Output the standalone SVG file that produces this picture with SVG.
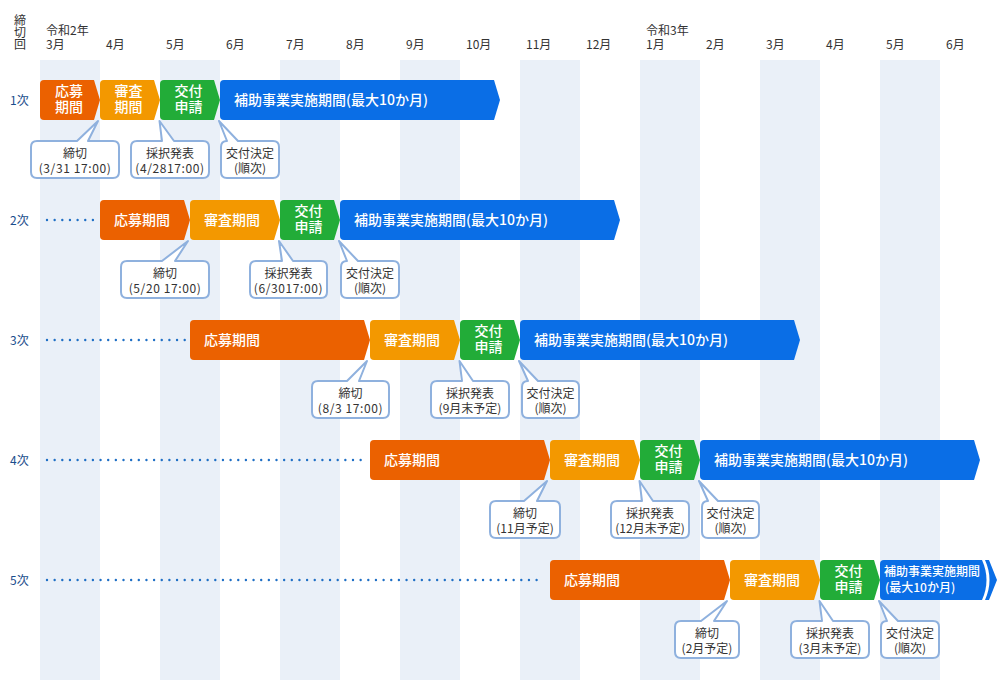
<svg xmlns="http://www.w3.org/2000/svg" width="1000" height="680" viewBox="0 0 1000 680">
<style>
text{font-family:"Noto Sans CJK JP","Noto Sans",sans-serif}
.st{fill:#eaf0f8}
.hd{font-size:12px;fill:#333}
.rl{font-size:12px;fill:#1a4d8c}
.ct{font-size:14px;fill:#fff;font-weight:500}
.cc{font-size:14px;fill:#fff;font-weight:500;text-anchor:middle}
.bs{font-size:12px;fill:#fff;font-weight:500}
.o{fill:#eb6100}
.a{fill:#f39800}
.g{fill:#22ac38}
.b{fill:#0a6ee6}
.dots{stroke:#1f6fc5;stroke-width:2.4;stroke-linecap:round;stroke-dasharray:0 7.65;fill:none}
.co{fill:#fff;stroke:#8fb1de;stroke-width:2;stroke-linejoin:round}
.cl{font-size:12px;fill:#333;text-anchor:middle}
.tm{letter-spacing:0.6px}
</style>
<g id="stripes">
<rect class="st" x="40" y="60" width="60" height="620"/>
<rect class="st" x="160" y="60" width="60" height="620"/>
<rect class="st" x="280" y="60" width="60" height="620"/>
<rect class="st" x="400" y="60" width="60" height="620"/>
<rect class="st" x="520" y="60" width="60" height="620"/>
<rect class="st" x="640" y="60" width="60" height="620"/>
<rect class="st" x="760" y="60" width="60" height="620"/>
<rect class="st" x="880" y="60" width="60" height="620"/>
</g>
<g id="header" class="hd">
<text x="20" y="14" writing-mode="vertical-rl">締切回</text>
<text x="46" y="35">令和2年</text>
<text x="646" y="35">令和3年</text>
<text x="46" y="49">3月</text>
<text x="106" y="49">4月</text>
<text x="166" y="49">5月</text>
<text x="226" y="49">6月</text>
<text x="286" y="49">7月</text>
<text x="346" y="49">8月</text>
<text x="406" y="49">9月</text>
<text x="466" y="49">10月</text>
<text x="526" y="49">11月</text>
<text x="586" y="49">12月</text>
<text x="646" y="49">1月</text>
<text x="706" y="49">2月</text>
<text x="766" y="49">3月</text>
<text x="826" y="49">4月</text>
<text x="886" y="49">5月</text>
<text x="946" y="49">6月</text>
</g>
<g id="rowlabels" class="rl">
<text x="10" y="105">1次</text>
<text x="10" y="225">2次</text>
<text x="10" y="345">3次</text>
<text x="10" y="465">4次</text>
<text x="10" y="585">5次</text>
</g>
<g id="connectors">
<line class="dots" x1="47" y1="220" x2="93" y2="220"/>
<line class="dots" x1="47" y1="340" x2="184.8" y2="340"/>
<line class="dots" x1="47" y1="460" x2="360.8" y2="460"/>
<line class="dots" x1="47" y1="580" x2="536.7" y2="580"/>
</g>
<g id="row1">
<g id="r1-oubo"><path class="o" d="M44,80 H94 L100,100 L94,120 H44 Q40,120 40,116 V84 Q40,80 44,80 Z"/><text class="cc"><tspan x="69" y="96">応募</tspan><tspan x="69" y="112">期間</tspan></text></g>
<g id="r1-shinsa"><path class="a" d="M104,80 H154 L160,100 L154,120 H104 Q100,120 100,116 V84 Q100,80 104,80 Z"/><text class="cc"><tspan x="128.5" y="96">審査</tspan><tspan x="128.5" y="112">期間</tspan></text></g>
<g id="r1-koufu"><path class="g" d="M164,80 H214 L220,100 L214,120 H164 Q160,120 160,116 V84 Q160,80 164,80 Z"/><text class="cc"><tspan x="188.5" y="96">交付</tspan><tspan x="188.5" y="112">申請</tspan></text></g>
<g id="r1-hojo"><path class="b" d="M224,80 H494 L500,100 L494,120 H224 Q220,120 220,116 V84 Q220,80 224,80 Z"/><text class="ct" x="234" y="105">補助事業実施期間(最大10か月)</text></g>
</g>
<g id="row2">
<g id="r2-oubo"><path class="o" d="M104,200 H184 L190,220 L184,240 H104 Q100,240 100,236 V204 Q100,200 104,200 Z"/><text class="ct" x="114" y="225">応募期間</text></g>
<g id="r2-shinsa"><path class="a" d="M194,200 H274 L280,220 L274,240 H194 Q190,240 190,236 V204 Q190,200 194,200 Z"/><text class="ct" x="204" y="225">審査期間</text></g>
<g id="r2-koufu"><path class="g" d="M284,200 H334 L340,220 L334,240 H284 Q280,240 280,236 V204 Q280,200 284,200 Z"/><text class="cc"><tspan x="308.5" y="216">交付</tspan><tspan x="308.5" y="232">申請</tspan></text></g>
<g id="r2-hojo"><path class="b" d="M344,200 H614 L620,220 L614,240 H344 Q340,240 340,236 V204 Q340,200 344,200 Z"/><text class="ct" x="354" y="225">補助事業実施期間(最大10か月)</text></g>
</g>
<g id="row3">
<g id="r3-oubo"><path class="o" d="M194,320 H364 L370,340 L364,360 H194 Q190,360 190,356 V324 Q190,320 194,320 Z"/><text class="ct" x="204" y="345">応募期間</text></g>
<g id="r3-shinsa"><path class="a" d="M374,320 H454 L460,340 L454,360 H374 Q370,360 370,356 V324 Q370,320 374,320 Z"/><text class="ct" x="384" y="345">審査期間</text></g>
<g id="r3-koufu"><path class="g" d="M464,320 H514 L520,340 L514,360 H464 Q460,360 460,356 V324 Q460,320 464,320 Z"/><text class="cc"><tspan x="488.5" y="336">交付</tspan><tspan x="488.5" y="352">申請</tspan></text></g>
<g id="r3-hojo"><path class="b" d="M524,320 H794 L800,340 L794,360 H524 Q520,360 520,356 V324 Q520,320 524,320 Z"/><text class="ct" x="534" y="345">補助事業実施期間(最大10か月)</text></g>
</g>
<g id="row4">
<g id="r4-oubo"><path class="o" d="M374,440 H544 L550,460 L544,480 H374 Q370,480 370,476 V444 Q370,440 374,440 Z"/><text class="ct" x="384" y="465">応募期間</text></g>
<g id="r4-shinsa"><path class="a" d="M554,440 H634 L640,460 L634,480 H554 Q550,480 550,476 V444 Q550,440 554,440 Z"/><text class="ct" x="564" y="465">審査期間</text></g>
<g id="r4-koufu"><path class="g" d="M644,440 H694 L700,460 L694,480 H644 Q640,480 640,476 V444 Q640,440 644,440 Z"/><text class="cc"><tspan x="668.5" y="456">交付</tspan><tspan x="668.5" y="472">申請</tspan></text></g>
<g id="r4-hojo"><path class="b" d="M704,440 H974 L980,460 L974,480 H704 Q700,480 700,476 V444 Q700,440 704,440 Z"/><text class="ct" x="714" y="465">補助事業実施期間(最大10か月)</text></g>
</g>
<g id="row5">
<g id="r5-oubo"><path class="o" d="M554,560 H724 L730,580 L724,600 H554 Q550,600 550,596 V564 Q550,560 554,560 Z"/><text class="ct" x="564" y="585">応募期間</text></g>
<g id="r5-shinsa"><path class="a" d="M734,560 H814 L820,580 L814,600 H734 Q730,600 730,596 V564 Q730,560 734,560 Z"/><text class="ct" x="744" y="585">審査期間</text></g>
<g id="r5-koufu"><path class="g" d="M824,560 H874 L880,580 L874,600 H824 Q820,600 820,596 V564 Q820,560 824,560 Z"/><text class="cc"><tspan x="848.5" y="576">交付</tspan><tspan x="848.5" y="592">申請</tspan></text></g>
<g id="r5-hojo"><path class="b" d="M884,560 H982 Q991,580 982,600 H884 Q880,600 880,596 V564 Q880,560 884,560 Z"/><path class="b" d="M985,560 H989 L997,580 L989,600 H985 Q994,580 985,560 Z"/><text class="bs"><tspan x="884" y="576">補助事業実施期間</tspan><tspan x="885" y="592">(最大10か月)</tspan></text></g>
</g>
<g id="callouts">
<g id="c1a"><path class="co" d="M37,141 H77 L98,121 L88,141 H113 Q119,141 119,147 V172 Q119,178 113,178 H37 Q31,178 31,172 V147 Q31,141 37,141 Z"/><text class="cl"><tspan x="75" y="158">締切</tspan><tspan class="tm" x="75" y="172.5">(3/31 17:00)</tspan></text></g>
<g id="c1b"><path class="co" d="M137,141 H162 L159.5,121 L174,141 H203 Q209,141 209,147 V172 Q209,178 203,178 H137 Q131,178 131,172 V147 Q131,141 137,141 Z"/><text class="cl"><tspan x="170" y="158">採択発表</tspan><tspan class="tm" x="170" y="172.5">(4/2817:00)</tspan></text></g>
<g id="c1c"><path class="co" d="M227,141 L219,121 L238,141 H273 Q279,141 279,147 V172 Q279,178 273,178 H227 Q221,178 221,172 V147 Q221,141 227,141 Z"/><text class="cl"><tspan x="250" y="158">交付決定</tspan><tspan x="250" y="172.5">(順次)</tspan></text></g>

<g id="c2a"><path class="co" d="M127,261 H162 L188,241 L175,261 H203 Q209,261 209,267 V292 Q209,298 203,298 H127 Q121,298 121,292 V267 Q121,261 127,261 Z"/><text class="cl"><tspan x="165" y="278">締切</tspan><tspan class="tm" x="165" y="292.5">(5/20 17:00)</tspan></text></g>
<g id="c2b"><path class="co" d="M256,261 H282 L279,241 L293,261 H321 Q327,261 327,267 V292 Q327,298 321,298 H256 Q250,298 250,292 V267 Q250,261 256,261 Z"/><text class="cl"><tspan x="288.5" y="278">採択発表</tspan><tspan class="tm" x="288.5" y="292.5">(6/3017:00)</tspan></text></g>
<g id="c2c"><path class="co" d="M347,261 L339,241 L358,261 H393 Q399,261 399,267 V292 Q399,298 393,298 H347 Q341,298 341,292 V267 Q341,261 347,261 Z"/><text class="cl"><tspan x="370" y="278">交付決定</tspan><tspan x="370" y="292.5">(順次)</tspan></text></g>

<g id="c3a"><path class="co" d="M318,381 H347 L367,361 L359,381 H383 Q389,381 389,387 V412 Q389,418 383,418 H318 Q312,418 312,412 V387 Q312,381 318,381 Z"/><text class="cl"><tspan x="350.5" y="398">締切</tspan><tspan class="tm" x="350.5" y="412.5">(8/3 17:00)</tspan></text></g>
<g id="c3b"><path class="co" d="M437,381 H462 L459.5,361 L473,381 H503 Q509,381 509,387 V412 Q509,418 503,418 H437 Q431,418 431,412 V387 Q431,381 437,381 Z"/><text class="cl"><tspan x="470" y="398">採択発表</tspan><tspan x="470" y="412.5">(9月末予定)</tspan></text></g>
<g id="c3c"><path class="co" d="M528,381 L519,361 L538,381 H573 Q579,381 579,387 V412 Q579,418 573,418 H528 Q522,418 522,412 V387 Q522,381 528,381 Z"/><text class="cl"><tspan x="550.5" y="398">交付決定</tspan><tspan x="550.5" y="412.5">(順次)</tspan></text></g>

<g id="c4a"><path class="co" d="M496,501 H524 L547,481 L537,501 H554 Q560,501 560,507 V532 Q560,538 554,538 H496 Q490,538 490,532 V507 Q490,501 496,501 Z"/><text class="cl"><tspan x="525" y="518">締切</tspan><tspan x="525" y="532.5">(11月予定)</tspan></text></g>
<g id="c4b"><path class="co" d="M617,501 H642 L639.5,481 L653,501 H683 Q689,501 689,507 V532 Q689,538 683,538 H617 Q611,538 611,532 V507 Q611,501 617,501 Z"/><text class="cl"><tspan x="650" y="518">採択発表</tspan><tspan x="650" y="532.5">(12月末予定)</tspan></text></g>
<g id="c4c"><path class="co" d="M708,501 L699,481 L718,501 H753 Q759,501 759,507 V532 Q759,538 753,538 H708 Q702,538 702,532 V507 Q702,501 708,501 Z"/><text class="cl"><tspan x="730.5" y="518">交付決定</tspan><tspan x="730.5" y="532.5">(順次)</tspan></text></g>

<g id="c5a"><path class="co" d="M681,621 H701 L727,601 L714,621 H733 Q739,621 739,627 V652 Q739,658 733,658 H681 Q675,658 675,652 V627 Q675,621 681,621 Z"/><text class="cl"><tspan x="707" y="638">締切</tspan><tspan x="707" y="652.5">(2月予定)</tspan></text></g>
<g id="c5b"><path class="co" d="M797,621 H822 L819.5,601 L833,621 H863 Q869,621 869,627 V652 Q869,658 863,658 H797 Q791,658 791,652 V627 Q791,621 797,621 Z"/><text class="cl"><tspan x="830" y="638">採択発表</tspan><tspan x="830" y="652.5">(3月末予定)</tspan></text></g>
<g id="c5c"><path class="co" d="M887,621 L879,601 L898,621 H933 Q939,621 939,627 V652 Q939,658 933,658 H887 Q881,658 881,652 V627 Q881,621 887,621 Z"/><text class="cl"><tspan x="910" y="638">交付決定</tspan><tspan x="910" y="652.5">(順次)</tspan></text></g>
</g>
</svg>
